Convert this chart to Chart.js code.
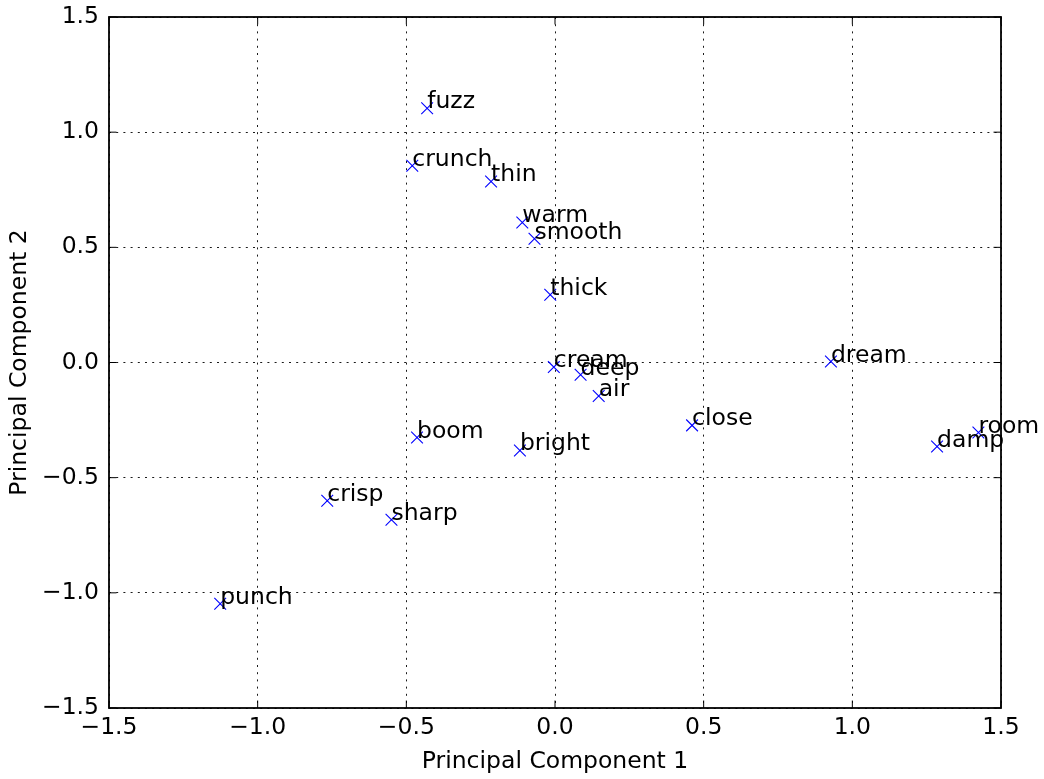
<!DOCTYPE html>
<html><head><meta charset="utf-8">
<style>html,body{margin:0;padding:0;background:#fff;} canvas{display:block;}</style>
<script src="https://cdn.jsdelivr.net/npm/chart.js@4.4.0/dist/chart.umd.min.js"></script>
</head><body>
<canvas id="c" width="1044" height="779"></canvas>
<script>
const words = ['fuzz','crunch','thin','warm','smooth','thick','cream','deep','air','dream','close','damp','room','boom','bright','crisp','sharp','punch'];
const pc1 = [-0.430,-0.480,-0.215,-0.110,-0.069,-0.016,-0.004,0.086,0.147,0.928,0.461,1.285,1.424,-0.464,-0.118,-0.766,-0.550,-1.126];
const pc2 = [1.104,0.854,0.786,0.608,0.537,0.294,-0.020,-0.053,-0.145,0.004,-0.273,-0.365,-0.304,-0.326,-0.382,-0.600,-0.683,-1.047];
const xTickLabels = ['\u22121.5','\u22121.0','\u22120.5','0.0','0.5','1.0','1.5'];
const yTickLabels = ['\u22121.5','\u22121.0','\u22120.5','0.0','0.5','1.0','1.5'];
const xTitle = 'Principal Component 1';
const yTitle = 'Principal Component 2';

const FONT = '"DejaVu Sans", "Liberation Sans", sans-serif';
const FS = 23.5;
Chart.defaults.color = '#000';
Chart.defaults.font.family = FONT;

const pointLabels = {
  id: 'pointLabels',
  afterDatasetsDraw(chart) {
    const ctx = chart.ctx;
    const meta = chart.getDatasetMeta(0);
    ctx.save();
    ctx.font = FS + 'px ' + FONT;
    ctx.fillStyle = '#000';
    ctx.textAlign = 'left';
    ctx.textBaseline = 'alphabetic';
    meta.data.forEach((pt, i) => { ctx.fillText(words[i], pt.x, pt.y); });
    ctx.restore();
  }
};

const frame = {
  id: 'frame',
  afterDraw(chart) {
    const ctx = chart.ctx;
    const {left, right, top, bottom} = chart.chartArea;
    const xs = chart.scales.x, ys = chart.scales.y;
    const L = 7.5;
    ctx.save();
    ctx.strokeStyle = '#000';
    ctx.lineWidth = 1;
    ctx.beginPath();
    xs.ticks.forEach(t => {
      const px = xs.getPixelForValue(t.value);
      ctx.moveTo(px, bottom); ctx.lineTo(px, bottom - L);
      ctx.moveTo(px, top); ctx.lineTo(px, top + L);
    });
    ys.ticks.forEach(t => {
      const py = ys.getPixelForValue(t.value);
      ctx.moveTo(left, py); ctx.lineTo(left + L, py);
      ctx.moveTo(right, py); ctx.lineTo(right - L, py);
    });
    ctx.stroke();
    ctx.lineWidth = 1.8;
    ctx.strokeRect(left, top, right - left, bottom - top);
    ctx.restore();
  }
};

const gridOpts = {
  color: '#000',
  lineWidth: 0.9,
  drawTicks: false,
  tickLength: 0
};

new Chart(document.getElementById('c'), {
  type: 'scatter',
  data: {
    datasets: [{
      data: pc1.map((x, i) => ({x: x, y: pc2[i]})),
      pointStyle: 'crossRot',
      pointRadius: 8.3,
      pointHoverRadius: 8.3,
      pointBorderColor: '#0000ff',
      pointBackgroundColor: 'rgba(0,0,0,0)',
      pointBorderWidth: 1.1,
      pointHoverBorderWidth: 1.1
    }]
  },
  options: {
    responsive: false,
    devicePixelRatio: 1,
    animation: false,
    events: [],
    layout: { padding: { left: 0, top: 17, right: 43, bottom: 0 } },
    plugins: { legend: { display: false }, tooltip: { enabled: false } },
    scales: {
      x: {
        type: 'linear', min: -1.5, max: 1.5,
        afterFit(s) { s.height = 71; },
        border: { display: false, dash: [2, 5.2] },
        grid: gridOpts,
        ticks: {
          stepSize: 0.5, padding: 8, maxRotation: 0,
          font: { size: FS, lineHeight: 1 },
          callback: (v, i) => xTickLabels[i]
        },
        title: { display: true, text: xTitle, font: { size: FS, lineHeight: 1 }, padding: { top: 0, bottom: 5 } }
      },
      y: {
        type: 'linear', min: -1.5, max: 1.5,
        afterFit(s) { s.width = 109; s.paddingTop = 0; s.paddingBottom = 0; },
        border: { display: false, dash: [2, 5.2] },
        grid: gridOpts,
        ticks: {
          stepSize: 0.5, padding: 10,
          font: { size: FS, lineHeight: 1 },
          callback: (v, i) => yTickLabels[i]
        },
        title: { display: true, text: yTitle, font: { size: FS, lineHeight: 1 }, padding: { top: 8, bottom: 0 } }
      }
    }
  },
  plugins: [pointLabels, frame]
});
</script>
</body></html>
